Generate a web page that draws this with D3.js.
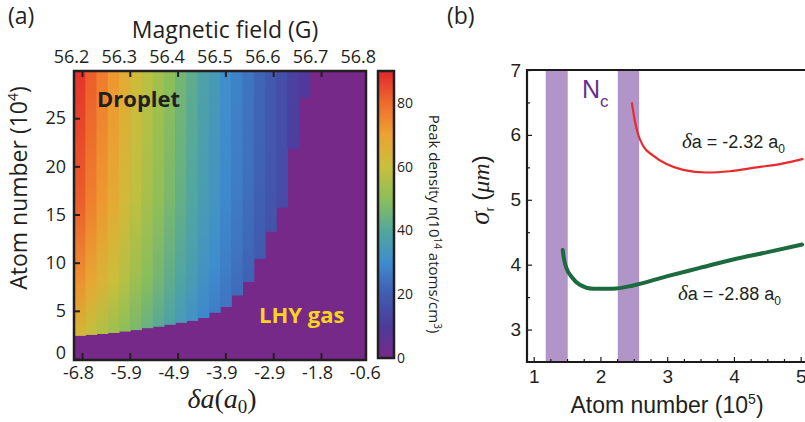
<!DOCTYPE html>
<html>
<head>
<meta charset="utf-8">
<script src="https://cdn.jsdelivr.net/npm/d3@7"></script>
<style>
  body { margin: 0; background: #fff; }
  svg text { font-family: "Open Sans", sans-serif; fill: #231f20; }
  .pb text { font-family: "Liberation Sans", Arial, sans-serif; }
</style>
</head>
<body>
<div id="chart"></div>
<script>
// ---- Panel (a) data ----
const fieldTicks = [56.2, 56.3, 56.4, 56.5, 56.6, 56.7, 56.8];
const deltaTickLabels = ["-6.8", "-5.9", "-4.9", "-3.9", "-2.9", "-1.8", "-0.6"];
const atomTicks = [0, 5, 10, 15, 20, 25];
const densityTicks = [0, 20, 40, 60, 80];

// one entry per field column (left -> right), atoms in 10^4, density in 10^14 cm^-3
const densityTop  = [88, 82, 77, 72, 67, 62, 58, 54, 50, 46, 42, 38, 35, 31, 28, 25, 22, 19, 16, 12, 9, 0, 0, 0, 0, 0];
const densityEdge = [63, 59, 56, 53, 50, 47, 44, 41, 38, 35, 32, 29, 27, 25, 23, 21, 19, 17, 15, 11, 9, 0, 0, 0, 0, 0];
const criticalAtoms = [2.4, 2.5, 2.6, 2.7, 2.85, 3.0, 3.2, 3.35, 3.55, 3.75, 3.95, 4.25, 4.8, 5.4, 6.6, 8.0, 10.4, 13.2, 15.7, 21.8, 27.1, null, null, null, null, null];

// colour map of the density scale
const colorValues = [0, 10, 20, 30, 40, 50, 60, 70, 80, 90];
const colorHex = ["#77298a", "#4d3a9c", "#3f5db0", "#3e8ccf", "#52a89c", "#8cbf58", "#c8c03b", "#eea232", "#ee6b2b", "#e3262b"];

// ---- Panel (b) data ----
const bandRanges = [[1.18, 1.51], [2.26, 2.58]];
const redN     = [2.47, 2.52, 2.57, 2.64, 2.79, 2.99, 3.24, 3.59, 3.94, 4.34, 4.69, 5.04];
const redSigma = [6.50, 6.19, 5.99, 5.83, 5.68, 5.55, 5.46, 5.42, 5.44, 5.50, 5.55, 5.63];
const greenN     = [1.435, 1.45, 1.49, 1.57, 1.69, 1.89, 2.19, 2.49, 2.99, 3.49, 3.99, 4.49, 5.02];
const greenSigma = [4.225, 4.11, 3.95, 3.81, 3.69, 3.63, 3.63, 3.68, 3.82, 3.95, 4.08, 4.19, 4.31];
const bxTicks = [1, 2, 3, 4, 5];
const byTicks = [3, 4, 5, 6, 7];

const svg = d3.select("#chart").append("svg")
    .attr("width", 805)
    .attr("height", 422);
const defs = svg.append("defs");

const color = d3.scaleLinear().domain(colorValues).range(colorHex);

// ================= Panel (a) =================
const pa = svg.append("g");
const L = 74, R = 366, T = 71, B = 359;

const colScale = d3.scaleBand().domain(d3.range(densityTop.length)).range([L, R]);
const fieldScale = d3.scaleLinear().domain([56.2, 56.7]).range([82, 321]);
const atomScale = d3.scaleLinear().domain([0, 29.9]).range([B, T]);

// LHY gas background
pa.append("rect")
    .attr("x", L).attr("y", T)
    .attr("width", R - L).attr("height", B - T)
    .attr("fill", color(0));

// droplet columns, each with a vertical gradient towards the critical edge
const gradOffsets = [0, 0.5, 0.8, 1];
const gradWeights = [0, 0.25, 0.6, 1];
densityTop.forEach(function(v, i) {
    if (criticalAtoms[i] === null) return;
    const g = defs.append("linearGradient")
        .attr("id", "col" + i)
        .attr("x1", 0).attr("y1", 0).attr("x2", 0).attr("y2", 1);
    gradOffsets.forEach(function(o, k) {
        g.append("stop")
            .attr("offset", o)
            .attr("stop-color", color(v - (v - densityEdge[i]) * gradWeights[k]));
    });
    pa.append("rect")
        .attr("x", colScale(i))
        .attr("y", T)
        .attr("width", colScale.bandwidth() + 0.6)
        .attr("height", atomScale(criticalAtoms[i]) - T)
        .attr("fill", "url(#col" + i + ")");
});

// axes
const topAxis = pa.append("g")
    .attr("transform", "translate(0," + T + ")")
    .call(d3.axisTop(fieldScale).tickValues(fieldTicks).tickSizeInner(-6).tickSizeOuter(0).tickPadding(8).tickFormat(d3.format(".1f")));
const botAxis = pa.append("g")
    .attr("transform", "translate(0," + B + ")")
    .call(d3.axisBottom(fieldScale).tickValues(fieldTicks).tickSizeInner(-6).tickSizeOuter(0).tickPadding(7)
        .tickFormat((d, i) => deltaTickLabels[i]));
const leftAxis = pa.append("g")
    .attr("transform", "translate(" + L + ",0)")
    .call(d3.axisLeft(atomScale).tickValues(atomTicks).tickSizeInner(-6).tickSizeOuter(0).tickPadding(8));

[topAxis, botAxis, leftAxis].forEach(function(a) {
    a.select(".domain").remove();
    a.selectAll("line").attr("stroke", "#231f20").attr("stroke-width", 2);
    a.selectAll("text").style("font-size", "18px").attr("fill", "#231f20");
});
topAxis.selectAll("text").attr("dx", -11);
botAxis.selectAll("text").attr("dx", -4);
leftAxis.selectAll(".tick").filter(d => d === 0).select("text").attr("y", -6);
topAxis.selectAll(".tick").filter(d => fieldScale(d) > R - 2).select("line").remove();
botAxis.selectAll(".tick").filter(d => fieldScale(d) > R - 2).select("line").remove();

// frame
pa.append("rect")
    .attr("x", L).attr("y", T)
    .attr("width", R - L).attr("height", B - T + 1)
    .attr("fill", "none")
    .attr("stroke", "#231f20")
    .attr("stroke-width", 2.5);

// region labels
pa.append("text")
    .attr("x", 97).attr("y", 107)
    .style("font-size", "22px").style("font-weight", "bold")
    .text("Droplet");
pa.append("text")
    .attr("x", 259).attr("y", 323)
    .style("font-size", "22px").style("font-weight", "bold")
    .style("fill", "#f7d51a")
    .text("LHY gas");

// axis titles
pa.append("text")
    .attr("x", 225).attr("y", 38)
    .attr("text-anchor", "middle")
    .style("font-size", "23px")
    .text("Magnetic field (G)");

const yTitle = pa.append("text")
    .attr("transform", "translate(27,188) rotate(-90)")
    .attr("text-anchor", "middle")
    .style("font-size", "23px");
yTitle.append("tspan").text("Atom number (10");
yTitle.append("tspan").attr("dy", -9).style("font-size", "14px").text("4");
yTitle.append("tspan").attr("dy", 9).text(")");

const xTitle = pa.append("text")
    .attr("x", 222).attr("y", 408)
    .attr("text-anchor", "middle")
    .style("font-family", "'Liberation Serif', serif")
    .style("font-size", "28px");
xTitle.append("tspan").style("font-style", "italic").text("δa");
xTitle.append("tspan").text("(");
xTitle.append("tspan").style("font-style", "italic").text("a");
xTitle.append("tspan").attr("dy", 5).style("font-size", "19px").text("0");
xTitle.append("tspan").attr("dy", -5).text(")");

// panel letter
pa.append("text").attr("x", 8).attr("y", 24).style("font-size", "23px").text("(a)");

// colour bar
const cbScale = d3.scaleLinear().domain([0, 90]).range([358, 71]);
const cbGrad = defs.append("linearGradient")
    .attr("id", "cbar")
    .attr("x1", 0).attr("y1", 1).attr("x2", 0).attr("y2", 0);
colorValues.forEach(function(v, i) {
    cbGrad.append("stop").attr("offset", v / 90).attr("stop-color", colorHex[i]);
});
pa.append("rect")
    .attr("x", 378).attr("y", cbScale(90))
    .attr("width", 16).attr("height", cbScale(0) - cbScale(90))
    .attr("fill", "url(#cbar)")
    .attr("stroke", "#231f20")
    .attr("stroke-width", 2.5);
const cbAxis = pa.append("g")
    .attr("transform", "translate(394,0)")
    .call(d3.axisRight(cbScale).tickValues(densityTicks).tickSize(0).tickPadding(3));
cbAxis.select(".domain").remove();
cbAxis.selectAll("text").style("font-size", "14px").attr("fill", "#231f20");

const cbTitle = pa.append("text")
    .attr("transform", "translate(429,224) rotate(90)")
    .attr("text-anchor", "middle")
    .style("font-size", "15px");
cbTitle.append("tspan").text("Peak density n(10");
cbTitle.append("tspan").attr("dy", -5).style("font-size", "10px").text("14");
cbTitle.append("tspan").attr("dy", 5).text(" atoms/cm");
cbTitle.append("tspan").attr("dy", -5).style("font-size", "10px").text("3");
cbTitle.append("tspan").attr("dy", 5).text(")");

// ================= Panel (b) =================
const pb = svg.append("g").attr("class", "pb");
const bL = 527, bT = 70, bB = 362;
const xB = d3.scaleLinear().domain([0.9, 5.1]).range([bL, 807.35]);
const yB = d3.scaleLinear().domain([2.5, 7]).range([bB, bT]);

// critical atom number bands
pb.selectAll(".band")
    .data(bandRanges)
    .enter()
    .append("rect")
    .attr("class", "band")
    .attr("x", d => xB(d[0]))
    .attr("width", d => xB(d[1]) - xB(d[0]))
    .attr("y", bT)
    .attr("height", bB - bT)
    .attr("fill", "#b195c8");

// curves
const line = d3.line()
    .x(d => xB(d[0]))
    .y(d => yB(d[1]))
    .curve(d3.curveMonotoneX);
pb.append("path")
    .datum(greenN.map((n, i) => [n, greenSigma[i]]))
    .attr("fill", "none")
    .attr("stroke", "#1b6b3e")
    .attr("stroke-width", 4)
    .attr("stroke-linecap", "round")
    .attr("d", line);
pb.append("path")
    .datum(redN.map((n, i) => [n, redSigma[i]]))
    .attr("fill", "none")
    .attr("stroke", "#ea2a2a")
    .attr("stroke-width", 2.2)
    .attr("d", line);

// axes
const bxAxis = pb.append("g")
    .attr("transform", "translate(0," + bB + ")")
    .call(d3.axisBottom(xB).tickValues(bxTicks).tickSizeInner(-5).tickSizeOuter(0).tickPadding(8).tickFormat(d3.format("d")));
const bxMinor = pb.append("g")
    .attr("transform", "translate(0," + bB + ")")
    .call(d3.axisBottom(xB).tickValues(d3.range(1, 5.01, 0.25).filter(v => v % 1 !== 0)).tickSizeInner(-3).tickSizeOuter(0).tickFormat(""));
const byAxis = pb.append("g")
    .attr("transform", "translate(" + bL + ",0)")
    .call(d3.axisLeft(yB).tickValues(byTicks).tickSizeInner(-5).tickSizeOuter(0).tickPadding(6).tickFormat(d3.format("d")));
const byMinor = pb.append("g")
    .attr("transform", "translate(" + bL + ",0)")
    .call(d3.axisLeft(yB).tickValues([3.5, 4.5, 5.5, 6.5]).tickSizeInner(-3).tickSizeOuter(0).tickFormat(""));
[bxAxis, bxMinor, byAxis, byMinor].forEach(function(a) {
    a.select(".domain").remove();
    a.selectAll("line").attr("stroke", "#1a1a1a").attr("stroke-width", 1.2);
    a.selectAll("text").style("font-size", "19px").attr("fill", "#231f20");
});

// frame lines (left, top, bottom)
pb.append("path")
    .attr("d", "M805," + bT + "H" + bL + "V" + bB + "H805")
    .attr("fill", "none")
    .attr("stroke", "#1a1a1a")
    .attr("stroke-width", 2.2);

// N_c label
const nc = pb.append("text")
    .attr("x", 582).attr("y", 98)
    .style("font-size", "25px")
    .style("fill", "#6a2e91");
nc.append("tspan").text("N");
nc.append("tspan").attr("dy", 9).style("font-size", "17px").style("fill", "#6a2e91").text("c");

// curve labels
function deltaLabel(x, y, value) {
    const t = pb.append("text").attr("x", x).attr("y", y).style("font-size", "18px");
    t.append("tspan").style("font-family", "'Liberation Serif', serif").style("font-style", "italic").style("font-size", "21px").text("δ");
    t.append("tspan").text("a = " + value + " a");
    t.append("tspan").attr("dy", 5).style("font-size", "12px").text("0");
}
deltaLabel(682, 148, "-2.32");
deltaLabel(678, 300, "-2.88");

// axis titles
const bxTitle = pb.append("text")
    .attr("x", 667).attr("y", 413)
    .attr("text-anchor", "middle")
    .style("font-size", "23px");
bxTitle.append("tspan").text("Atom number (10");
bxTitle.append("tspan").attr("dy", -9).style("font-size", "14px").text("5");
bxTitle.append("tspan").attr("dy", 9).text(")");

const byTitle = pb.append("text")
    .attr("transform", "translate(489,190) rotate(-90)")
    .attr("text-anchor", "middle")
    .style("font-size", "24px");
byTitle.append("tspan").style("font-family", "'Liberation Serif', serif").style("font-style", "italic").style("font-size", "27px").text("σ");
byTitle.append("tspan").attr("dy", 5).style("font-size", "12px").text("r");
byTitle.append("tspan").attr("dy", -5).text(" (");
byTitle.append("tspan").style("font-family", "'Liberation Serif', serif").style("font-style", "italic").text("μm");
byTitle.append("tspan").text(")");

pb.append("text").attr("x", 447).attr("y", 24).style("font-size", "23px").style("font-family", "'Open Sans', sans-serif").text("(b)");
</script>
</body>
</html>
